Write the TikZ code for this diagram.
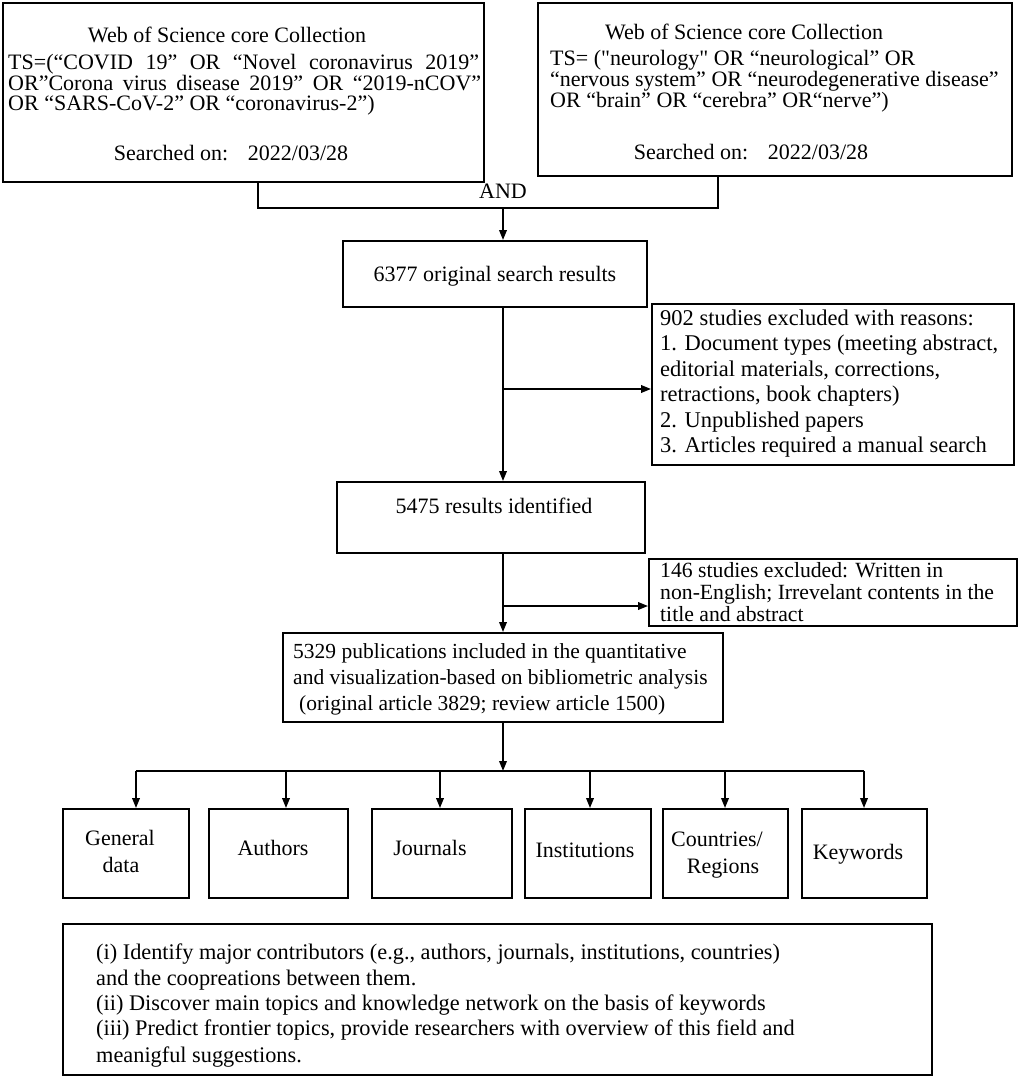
\documentclass[tikz,border=0pt]{standalone}
\usepackage{fontspec}
\setmainfont{Liberation Serif}[Ligatures=TeXOff]
\usetikzlibrary{arrows.meta}
\begin{document}
\begin{tikzpicture}[x=1pt,y=-1pt,
  box/.style={draw, line width=1.9pt, inner sep=0pt},
  conn/.style={line width=1.9pt},
  arr/.style={conn, -{Triangle[length=10pt,width=7.5pt]}},
  t/.style={inner sep=0pt, anchor=base, font=\fontsize{22}{22}\selectfont},
  tl/.style={t, anchor=base west},
  te/.style={tl, font=\fontsize{22.5}{22}\selectfont},
  tf/.style={tl, font=\fontsize{21.5}{22}\selectfont},
  tg/.style={tl, font=\fontsize{21.7}{22}\selectfont},
  th/.style={tl, font=\fontsize{22.3}{22}\selectfont},
]
\useasboundingbox (0,0) rectangle (1021,1078);

% ---------- boxes ----------
\node[box, minimum width=481pt, minimum height=179pt] (A) at (243.5,92.5) {};
\node[box, minimum width=474pt, minimum height=173pt] (B) at (775,89.5) {};
\node[box, minimum width=304pt, minimum height=66pt] (C) at (495,274) {};
\node[box, minimum width=362pt, minimum height=161pt] (E) at (833,384.5) {};
\node[box, minimum width=308pt, minimum height=71pt] (D) at (491,517.5) {};
\node[box, minimum width=368pt, minimum height=67pt] (G) at (833,592.5) {};
\node[box, minimum width=440pt, minimum height=89pt] (F) at (503,677.5) {};
\node[box, minimum width=126pt, minimum height=89pt] (gen) at (126,853.5) {};
\node[box, minimum width=139pt, minimum height=89pt] (aut) at (278.5,853.5) {};
\node[box, minimum width=140pt, minimum height=89pt] (jou) at (442,853.5) {};
\node[box, minimum width=126pt, minimum height=89pt] (ins) at (588,853.5) {};
\node[box, minimum width=125pt, minimum height=89pt] (cou) at (725.5,853.5) {};
\node[box, minimum width=125pt, minimum height=89pt] (key) at (864.5,853.5) {};
\node[box, minimum width=869pt, minimum height=151pt] (H) at (497.5,999.5) {};

% ---------- texts ----------
\node[t] (a1) at (227,43) {Web of Science core Collection};
\node[tl] (a2) at (8,70) {\makebox[471pt][s]{TS=(“COVID 19” OR “Novel coronavirus 2019”}};
\node[tl] (a3) at (8,91) {\makebox[473pt][s]{OR”Corona virus disease 2019” OR “2019-nCOV”}};
\node[tl] (a4) at (8,111) {OR “SARS-CoV-2” OR “coronavirus-2”)};
\node[t] (a5) at (231,161) {Searched on:\hspace{0.9em}2022/03/28};

\node[t] (b1) at (744,40) {Web of Science core Collection};
\node[tl] (b2) at (550,66) {TS= ("neurology" OR “neurological” OR};
\node[tl] (b3) at (550,87) {“nervous system” OR “neurodegenerative disease”};
\node[tl] (b4) at (550,108) {OR “brain” OR “cerebra” OR“nerve”)};
\node[t] (b5) at (751,160) {Searched on:\hspace{0.9em}2022/03/28};

\node[t] (andt) at (503,199) {AND};
\node[t] (c1) at (495,281) {6377 original search results};

\node[te] (e1) at (660,325) {902 studies excluded with reasons:};
\node[te] (e2) at (660,350.5) {1. Document types (meeting abstract,};
\node[te] (e3) at (660,376) {editorial materials, corrections,};
\node[te] (e4) at (660,401.5) {retractions, book chapters)};
\node[te] (e5) at (660,427) {2. Unpublished papers};
\node[te] (e6) at (660,452.5) {3. Articles required a manual search};

\node[t] (d1) at (494,513) {5475 results identified};

\node[tg] (g1) at (660,577) {146 studies excluded: Written in};
\node[tg] (g2) at (660,599) {non-English; Irrevelant contents in the};
\node[tg] (g3) at (660,621) {title and abstract};

\node[tf] (f1) at (293,658) {5329 publications included in the quantitative};
\node[tf] (f2) at (293,684) {and visualization-based on bibliometric analysis};
\node[tf] (f3) at (299,710) {(original article 3829; review article 1500)};

\node[t] (n1) at (120,845) {General};
\node[t] (n2) at (121,872) {data};
\node[t] (n3) at (273,855) {Authors};
\node[t] (n4) at (430,855) {Journals};
\node[t] (n5) at (585,857) {Institutions};
\node[t] (n6) at (717,846) {Countries/};
\node[t] (n7) at (723,873) {Regions};
\node[t] (n8) at (858,859) {Keywords};

\node[th] (h1) at (96,959) {(i) Identify major contributors (e.g., authors, journals, institutions, countries)};
\node[th] (h2) at (96,985) {and the coopreations between them.};
\node[th] (h3) at (96,1010) {(ii) Discover main topics and knowledge network on the basis of keywords};
\node[th] (h4) at (96,1035) {(iii) Predict frontier topics, provide researchers with overview of this field and};
\node[th] (h5) at (96,1062) {meanigful suggestions.};

% ---------- connectors ----------
\coordinate (andL) at (258,208);
\coordinate (andR) at (718,208);
\coordinate (andM) at (503,208);
\draw[conn] (andL |- A.south) -- (andL) -- (andR) -- (andR |- B.south);
\draw[arr] (andM) -- (andM |- C.north);

\coordinate (mx) at (503,0);
\draw[arr] (mx |- C.south) -- (mx |- D.north);
\coordinate (br1) at (503,389);
\draw[arr] (br1) -- (br1 -| E.west);
\draw[arr] (mx |- D.south) -- (mx |- F.north);
\coordinate (br2) at (503,606);
\draw[arr] (br2) -- (br2 -| G.west);

\coordinate (hub) at (503,771);
\draw[arr] (mx |- F.south) -- (hub);
\coordinate (hL) at (136,771);
\coordinate (hR) at (864,771);
\draw[conn] (hL) -- (hR);
\draw[arr] (hL) -- (hL |- gen.north);
\coordinate (h2) at (286,771);
\draw[arr] (h2) -- (h2 |- aut.north);
\coordinate (h3) at (440,771);
\draw[arr] (h3) -- (h3 |- jou.north);
\coordinate (h4) at (590,771);
\draw[arr] (h4) -- (h4 |- ins.north);
\coordinate (h5) at (725,771);
\draw[arr] (h5) -- (h5 |- cou.north);
\draw[arr] (hR) -- (hR |- key.north);
\end{tikzpicture}
\end{document}
